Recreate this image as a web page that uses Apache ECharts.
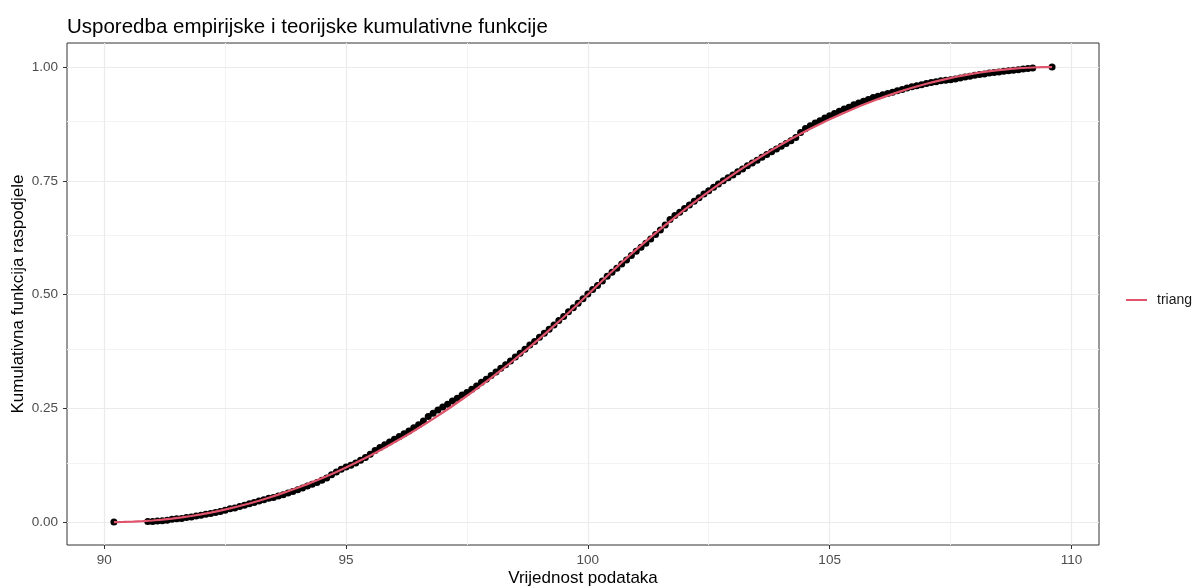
<!DOCTYPE html>
<html>
<head>
<meta charset="utf-8">
<script src="https://cdn.jsdelivr.net/npm/echarts@6/dist/echarts.min.js"></script>
<style>
html,body{margin:0;padding:0;background:#fff;}
#chart{width:1195px;height:588px;}
</style>
</head>
<body>
<div id="chart"></div>
<script>
// ---- Data ----
const empX = [90.2,
90.9,91.0,91.1,91.2,91.3,91.4,91.5,91.6,91.7,91.8,91.9,92.0,92.1,92.2,92.3,92.4,92.5,92.6,92.7,92.8,92.9,
93.0,93.1,93.2,93.3,93.4,93.5,93.6,93.7,93.8,93.9,94.0,94.1,94.2,94.3,94.4,94.5,94.6,94.7,94.8,94.9,
95.0,95.1,95.2,95.3,95.4,95.5,95.6,95.7,95.8,95.9,96.0,96.1,96.2,96.3,96.4,96.5,96.6,96.7,96.8,96.9,
97.0,97.1,97.2,97.3,97.4,97.5,97.6,97.7,97.8,97.9,98.0,98.1,98.2,98.3,98.4,98.5,98.6,98.7,98.8,98.9,
99.0,99.1,99.2,99.3,99.4,99.5,99.6,99.7,99.8,99.9,100.0,100.1,100.2,100.3,100.4,100.5,100.6,100.7,100.8,100.9,
101.0,101.1,101.2,101.3,101.4,101.5,101.6,101.7,101.8,101.9,102.0,102.1,102.2,102.3,102.4,102.5,102.6,102.7,102.8,102.9,
103.0,103.1,103.2,103.3,103.4,103.5,103.6,103.7,103.8,103.9,104.0,104.1,104.2,104.3,104.4,104.5,104.6,104.7,104.8,104.9,
105.0,105.1,105.2,105.3,105.4,105.5,105.6,105.7,105.8,105.9,106.0,106.1,106.2,106.3,106.4,106.5,106.6,106.7,106.8,106.9,
107.0,107.1,107.2,107.3,107.4,107.5,107.6,107.7,107.8,107.9,108.0,108.1,108.2,108.3,108.4,108.5,108.6,108.7,108.8,108.9,
109.0,109.1,109.2,109.6];
const empY = [0.000,
0.001,0.001,0.002,0.003,0.004,0.006,0.007,0.008,0.010,0.011,0.013,0.015,0.017,0.019,0.021,0.023,0.026,0.029,0.031,0.034,0.037,
0.040,0.043,0.046,0.049,0.052,0.054,0.057,0.060,0.064,0.067,0.071,0.075,0.079,0.083,0.087,0.092,0.097,0.104,0.110,0.116,
0.121,0.125,0.130,0.136,0.142,0.149,0.157,0.164,0.170,0.176,0.182,0.188,0.194,0.200,0.207,0.214,0.222,0.232,0.239,0.246,
0.253,0.259,0.266,0.272,0.279,0.285,0.292,0.299,0.307,0.314,0.322,0.330,0.338,0.346,0.354,0.363,0.371,0.380,0.389,0.397,
0.406,0.415,0.424,0.433,0.443,0.452,0.462,0.471,0.481,0.491,0.501,0.511,0.520,0.530,0.540,0.549,0.558,0.567,0.576,0.586,
0.595,0.604,0.613,0.622,0.632,0.642,0.653,0.665,0.674,0.681,0.689,0.697,0.705,0.713,0.721,0.728,0.736,0.743,0.750,0.757,
0.763,0.770,0.776,0.783,0.789,0.795,0.802,0.808,0.814,0.820,0.826,0.832,0.838,0.845,0.856,0.865,0.871,0.877,0.882,0.888,
0.893,0.898,0.903,0.908,0.912,0.917,0.921,0.925,0.929,0.933,0.936,0.939,0.942,0.945,0.948,0.951,0.954,0.957,0.959,0.961,
0.964,0.966,0.968,0.970,0.971,0.972,0.974,0.976,0.978,0.980,0.982,0.984,0.985,0.987,0.988,0.989,0.991,0.992,0.993,0.994,
0.996,0.997,0.998,1.000];

const theoryX = [90.2,90.4,90.6,90.8,91.0,91.2,91.4,91.6,91.8,92.0,92.2,92.4,92.6,92.8,93.0,93.2,93.4,93.6,93.8,94.0,
94.2,94.4,94.6,94.8,95.0,95.2,95.4,95.6,95.8,96.0,96.2,96.4,96.6,96.8,97.0,97.2,97.4,97.6,97.8,98.0,
98.2,98.4,98.6,98.8,99.0,99.2,99.4,99.6,99.8,100.0,100.2,100.4,100.6,100.8,101.0,101.2,101.4,101.6,101.8,102.0,
102.2,102.4,102.6,102.8,103.0,103.2,103.4,103.6,103.8,104.0,104.2,104.4,104.6,104.8,105.0,105.2,105.4,105.6,105.8,106.0,
106.2,106.4,106.6,106.8,107.0,107.2,107.4,107.6,107.8,108.0,108.2,108.4,108.6,108.8,109.0,109.2,109.4,109.6];
const theoryY = [0.0000,0.0002,0.0008,0.0019,0.0033,0.0052,0.0075,0.0102,0.0133,0.0169,0.0208,0.0252,0.0300,0.0352,0.0408,0.0469,0.0533,0.0602,0.0675,0.0752,
0.0833,0.0918,0.1008,0.1102,0.1200,0.1302,0.1408,0.1518,0.1633,0.1752,0.1874,0.2001,0.2133,0.2268,0.2408,0.2551,0.2699,0.2851,0.3007,0.3168,
0.3332,0.3501,0.3674,0.3851,0.4032,0.4217,0.4407,0.4601,0.4798,0.5000,0.5206,0.5407,0.5605,0.5798,0.5987,0.6171,0.6352,0.6527,0.6699,0.6866,
0.7029,0.7187,0.7341,0.7491,0.7636,0.7778,0.7914,0.8047,0.8175,0.8298,0.8418,0.8533,0.8644,0.8750,0.8852,0.8950,0.9043,0.9132,0.9216,0.9297,
0.9373,0.9444,0.9512,0.9575,0.9633,0.9687,0.9737,0.9783,0.9824,0.9861,0.9894,0.9922,0.9946,0.9965,0.9980,0.9991,0.9998,1.0000];

const xTicks = [90, 95, 100, 105, 110];
const xMinor = [92.5, 97.5, 102.5, 107.5];
const yTicks = [0, 0.25, 0.5, 0.75, 1];
const yMinor = [0.125, 0.375, 0.625, 0.875];

const seriesName = 'triang';
const titleText = 'Usporedba empirijske i teorijske kumulativne funkcije';
const xName = 'Vrijednost podataka';
const yName = 'Kumulativna funkcija raspodjele';

// ---- Build chart ----
const FONT = '"Liberation Sans", Arial, sans-serif';
const empData = empX.map((x, i) => [x, empY[i]]);
const theoryData = theoryX.map((x, i) => [x, theoryY[i]]);

function gridLines(vals, key, color, width) {
  return vals.map(v => ({ [key]: v, lineStyle: { color: color, width: width, type: 'solid' } }));
}

const chart = echarts.init(document.getElementById('chart'), null, { renderer: 'canvas' });
chart.setOption({
  animation: false,
  backgroundColor: '#ffffff',
  title: {
    text: titleText,
    left: 62,
    top: 12,
    textStyle: { fontFamily: FONT, fontSize: 20.5, fontWeight: 'normal', color: '#000000' }
  },
  grid: {
    left: 67, right: 96, top: 43, bottom: 43,
    outerBoundsMode: 'none',
    containLabel: false,
    show: true, borderColor: '#333333', borderWidth: 1, backgroundColor: 'transparent'
  },
  legend: {
    data: [{ name: seriesName, icon: 'rect' }],
    left: 1121, top: 288,
    itemWidth: 21, itemHeight: 2,
    textStyle: { fontFamily: FONT, fontSize: 14, color: '#1a1a1a', padding: [0, 0, 0, 5] }
  },
  xAxis: {
    type: 'value',
    position: 'bottom',
    min: 89.23, max: 110.57,
    name: xName, nameLocation: 'middle', nameGap: 25, nameMoveOverlap: false,
    nameTextStyle: { fontFamily: FONT, fontSize: 17, color: '#000000' },
    axisLine: { show: false, onZero: false },
    axisTick: { show: true, customValues: xTicks, length: 4, lineStyle: { color: '#333333', width: 1 } },
    axisLabel: { customValues: xTicks, color: '#4D4D4D', fontFamily: FONT, fontSize: 13.5, margin: 8 },
    splitLine: { show: false }
  },
  yAxis: {
    type: 'value',
    position: 'left',
    min: -0.0505, max: 1.053,
    name: yName, nameLocation: 'middle', nameGap: 40, nameRotate: 90, nameMoveOverlap: false,
    nameTextStyle: { fontFamily: FONT, fontSize: 17, color: '#000000' },
    axisLine: { show: false, onZero: false },
    axisTick: { show: true, customValues: yTicks, length: 4, lineStyle: { color: '#333333', width: 1 } },
    axisLabel: { customValues: yTicks, color: '#4D4D4D', fontFamily: FONT, fontSize: 13.5, margin: 9,
                 formatter: v => v.toFixed(2) },
    splitLine: { show: false }
  },
  series: [
    {
      name: '_grid',
      type: 'line',
      data: [],
      silent: true,
      z: 0,
      markLine: {
        z: 0,
        silent: true,
        symbol: ['none', 'none'],
        label: { show: false },
        emphasis: { disabled: true },
        animation: false,
        data: [].concat(
          gridLines(xMinor, 'xAxis', '#F3F3F3', 1),
          gridLines(yMinor, 'yAxis', '#F3F3F3', 1),
          gridLines(xTicks, 'xAxis', '#EBEBEB', 1.2),
          gridLines(yTicks, 'yAxis', '#EBEBEB', 1.2)
        )
      }
    },
    {
      name: 'empirical',
      type: 'scatter',
      data: empData,
      symbol: 'circle',
      symbolSize: 7,
      itemStyle: { color: '#000000', opacity: 1 },
      z: 10,
      silent: true
    },
    {
      name: seriesName,
      type: 'line',
      data: theoryData,
      showSymbol: false,
      symbol: 'none',
      color: '#DF536B',
      lineStyle: { color: '#DF536B', width: 2.2 },
      z: 11,
      silent: true
    }
  ]
});
</script>
</body>
</html>
